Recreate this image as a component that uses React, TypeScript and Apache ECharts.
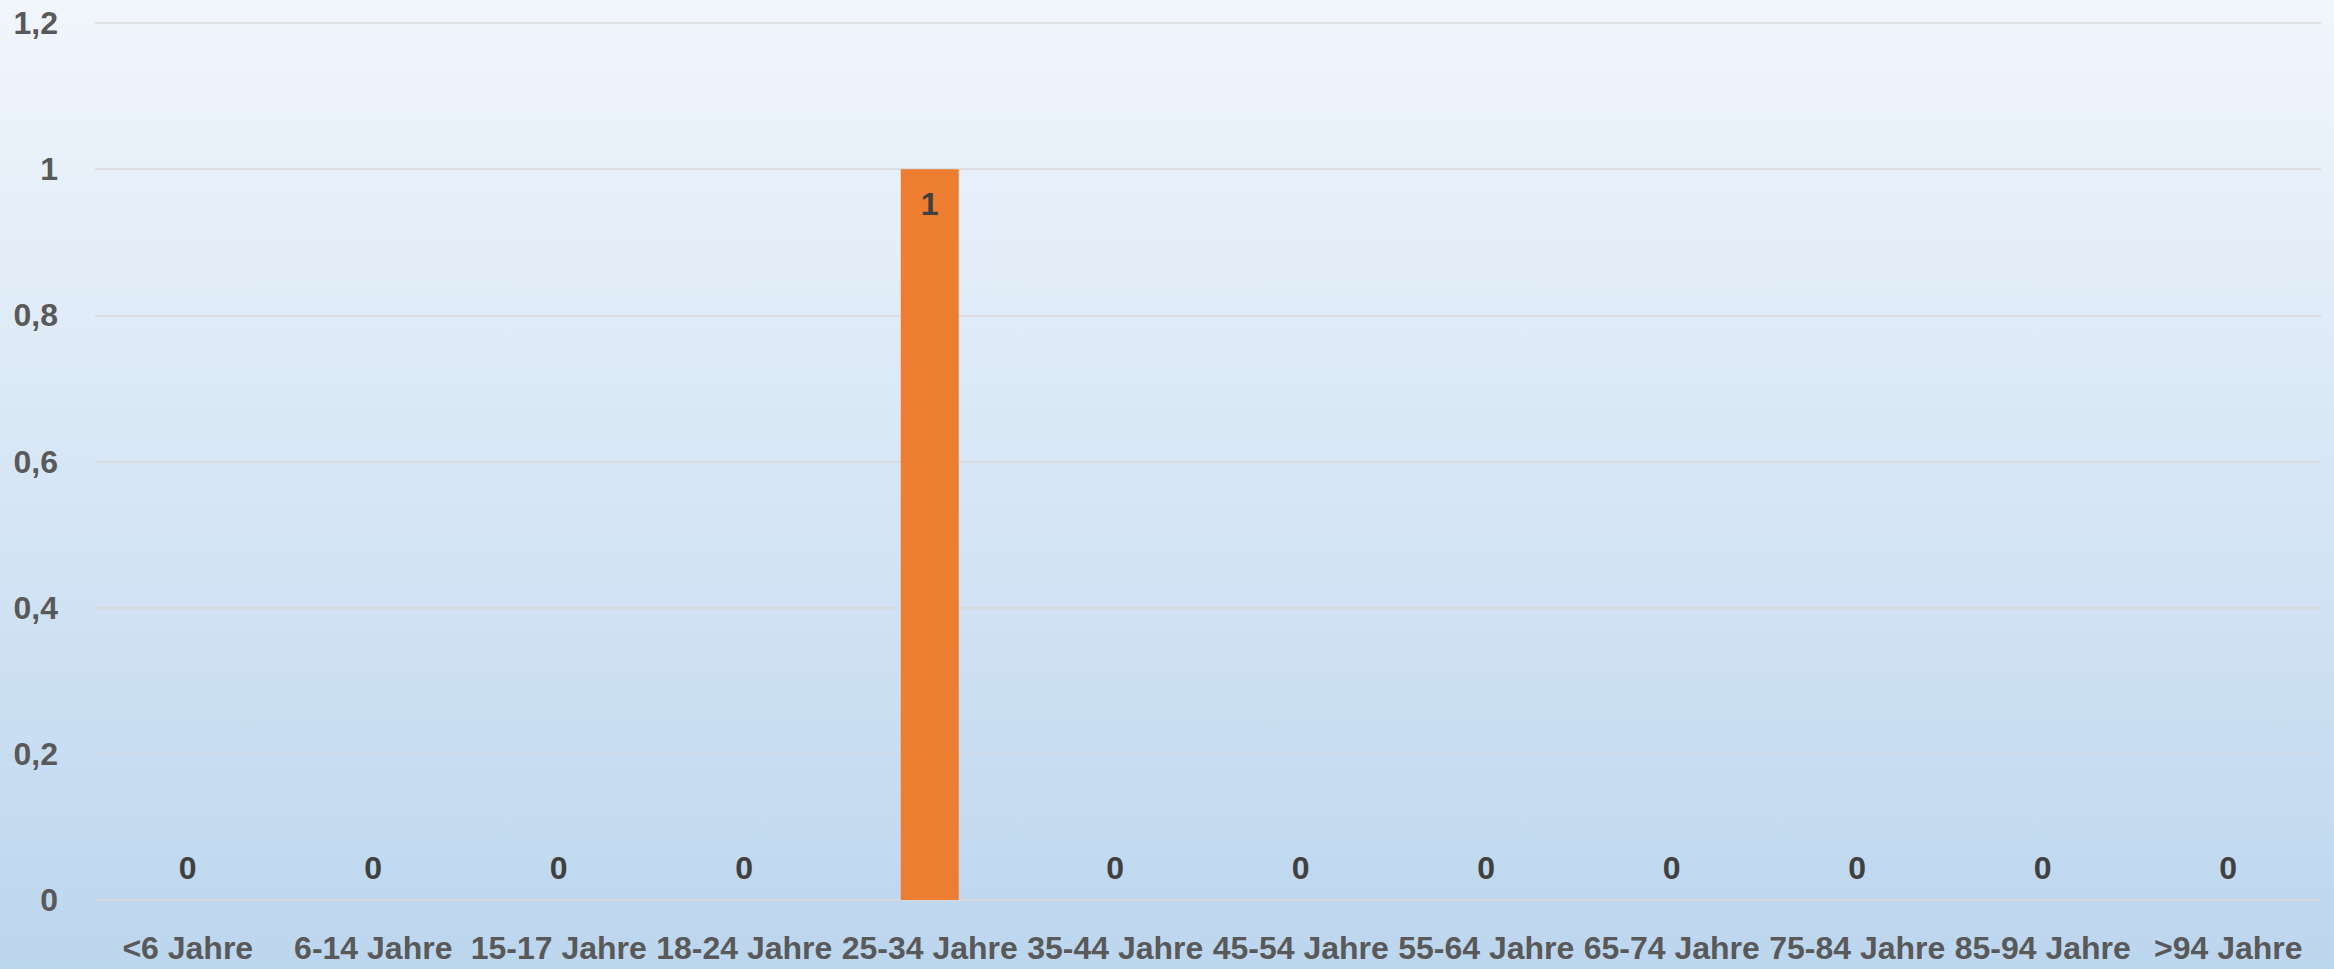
import React, { useEffect, useRef } from "react";
import * as echarts from "echarts";

const categories = [
  "<6 Jahre", "6-14 Jahre", "15-17 Jahre", "18-24 Jahre", "25-34 Jahre", "35-44 Jahre",
  "45-54 Jahre", "55-64 Jahre", "65-74 Jahre", "75-84 Jahre", "85-94 Jahre", ">94 Jahre",
];
const values = [0, 0, 0, 0, 1, 0, 0, 0, 0, 0, 0, 0];

const FONT = "'Liberation Sans', Arial, sans-serif";

export default function App() {
  const ref = useRef<HTMLDivElement>(null);
  useEffect(() => {
    document.body.style.margin = "0";
    const chart = echarts.init(ref.current!, null, { renderer: "svg" });
    chart.setOption({
      animation: false,
      backgroundColor: new echarts.graphic.LinearGradient(0, 0, 0, 1, [
        { offset: 0, color: "#F1F6FC" },
        { offset: 1, color: "#BCD6EE" },
      ]),
      grid: { left: 95, right: 13, top: 23, bottom: 69, containLabel: false },
      xAxis: {
        type: "category",
        data: categories,
        axisLine: { show: true, lineStyle: { color: "#D9D9D9", width: 1.5 } },
        axisTick: { show: false },
        axisLabel: {
          interval: 0,
          margin: 32,
          color: "#595959",
          fontFamily: FONT,
          fontWeight: "bold",
          fontSize: 32,
        },
      },
      yAxis: {
        type: "value",
        min: 0,
        max: 1.2,
        interval: 0.2,
        axisLine: { show: false },
        axisTick: { show: false },
        splitLine: { lineStyle: { color: "#D9D9D9", width: 1.5 } },
        axisLabel: {
          margin: 37,
          color: "#595959",
          fontFamily: FONT,
          fontWeight: "bold",
          fontSize: 32,
          formatter: (v: number) => String(Math.round(v * 10) / 10).replace(".", ","),
        },
      },
      series: [
        {
          type: "bar",
          barWidth: 58,
          itemStyle: { color: "#ED7D31" },
          data: values.map((v) => ({
            value: v,
            label: {
              show: true,
              position: v > 0 ? "insideTop" : "top",
              distance: v > 0 ? 19 : 16,
              color: "#404040",
              fontFamily: FONT,
              fontWeight: "bold",
              fontSize: 32,
            },
          })),
        },
      ],
    });
    return () => chart.dispose();
  }, []);
  return <div ref={ref} style={{ width: 2334, height: 969 }} />;
}
